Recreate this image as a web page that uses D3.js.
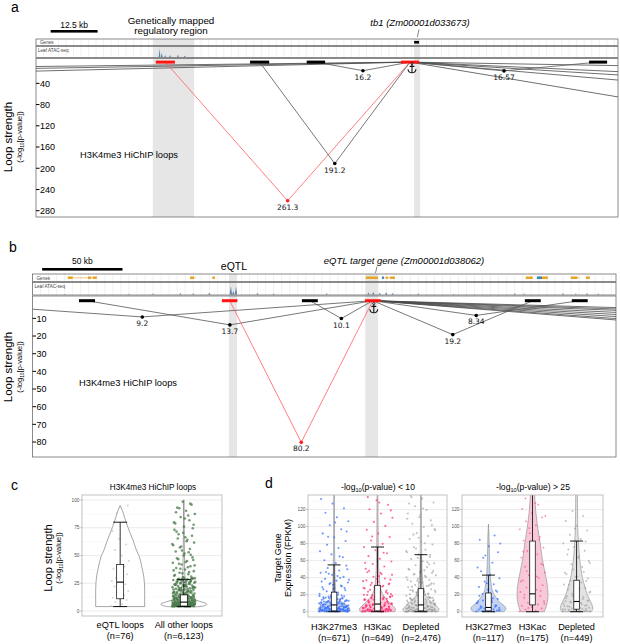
<!DOCTYPE html>
<html><head><meta charset="utf-8">
<script src="https://cdn.jsdelivr.net/npm/d3@7/dist/d3.min.js"></script>
<style>html,body{margin:0;padding:0;background:#fff;}svg{display:block}</style>
</head><body>
<script>
// ================= DATA =================
// ---- Panel a : tb1 locus, positions in kb from window start ----
const aWindowKb = [0, 155];
const aAnchors = [[31.9,37.0,1],[57.0,62.1,0],[72.1,77.0,0],[97.2,102.0,1],[147.3,152.1,0]];
const aLoops = [[34.45,99.6,261.3,1],[59.55,99.6,191.2,0],[74.55,99.6,16.2,0],[99.6,149.7,16.57,0]];
const aLoopsOut = [[-100,99.6,17],[-120,99.6,13],[-140,99.6,10],[99.6,300,12],[99.6,260,26],[99.6,260,35],[99.6,260,49],[99.6,260,95]];
const aShaded = [[31.1,42.1],[100.7,102.3]];
const aGenes = [[100.7,102.0]];
const aAtac = [[32.9,0.85],[33.5,0.45],[34.4,0.2],[35.7,0.2],[37.8,0.25],[39.6,0.15]];
const aTicks = [40,80,120,160,200,240,280];

// ---- Panel b : eQTL locus ----
const bWindowKb = [0, 363];
const bAnchors = [[28.9,38.9,0],[117.8,127.5,1],[167.6,177.5,0],[206.8,216.7,1],[306.3,316.2,0],[335.5,345.4,0]];
const bLoops = [[-75.1,211.7,9.2,0],[33.9,211.7,13.7,0],[122.7,211.7,80.2,1],[172.6,211.7,10.1,0],[211.7,311.2,19.2,0],[211.7,340.4,8.34,0]];
const bLoopsOut = [[211.7,600,5],[211.7,600,6],[211.7,600,7],[211.7,600,8.5],[211.7,600,10],[211.7,600,11.5],[211.7,600,13],[211.7,600,14]];
const bShaded = [[122.2,127.2],[207.0,215.0]];
const bGeneSpans = [[22,40],[98,101.7],[111.6,113.5],[207.4,214.9],[217.4,225.4],[306.9,311.2],[313.8,320.6],[334.9,340.5],[344.3,346.7]];
const bExons = [[22,25,0],[34.5,36.5,0],[37.5,40,0],[98,100.5,0],[112,113.5,0],[207.4,214.9,0],[217.4,218.6,1],[220,221,0],[222.5,225.4,0],[306.9,311.2,0],[313.8,317,1],[317,320.6,0],[334.9,339,0],[344.3,346.7,0]];
const bAtac = [[123.4,0.75],[126.6,0.7],[124.9,0.3],[20,0.05],[60,0.06],[75,0.08],[92,0.12],[100,0.1],[110,0.15],[140,0.12],[150,0.08],[183,0.1],[209,0.18],[212,0.22],[216,0.15],[220,0.2],[224,0.12],[240,0.08],[262,0.06],[300,0.1],[306,0.08],[330,0.1],[338,0.08],[345,0.1],[352,0.08]];
const bTicks = [10,20,30,40,50,60,70,80];

// ---- Panel c : loop strength ----
const cCats = ["eQTL loops","All other loops"];
const cN = ["(n=76)","(n=6,123)"];
const cBox = [[4,11,26,42,80],[4,4.5,8,14.5,28.5]]; // lower whisker, Q1, median, Q3, upper whisker
const cViolinEqtl = [[4,1],[19,1],[25,0.99],[34,0.94],[40,0.88],[49,0.78],[55,0.66],[64,0.52],[70,0.41],[80,0.24],[85,0.17],[90,0.1],[95,0]];
const cViolinOther = [[3.6,0],[4,0.7],[5,0.92],[6,1],[7,0.95],[8,0.8],[10,0.5],[12,0.3],[14,0.22],[17,0.14],[20,0.1],[25,0.07],[30,0.05],[40,0.035],[60,0.022],[80,0.015],[100,0.01]];
const cPtsEqtl = [4.5,6,8,10,11,12,14,16,18,20,22,24,25,27,28,30,33,35,38,40,42,45,50,55,60,65,72,80,88,95];
const cPtsOther = [4.1,4.3,4.5,4.8,5.0,5.2,5.5,5.7,6.0,6.2,6.4,6.7,7.0,7.2,7.5,7.8,8.1,8.4,8.7,9.0,9.3,9.6,10.0,10.4,10.8,11.2,11.6,12.0,12.5,13.0,13.5,14.0,4.2,4.6,5.1,5.6,6.1,6.6,7.1,7.6,8.2,8.8,9.4,10.2,11.0,11.8,12.7,13.6,14.6,4.4,4.9,5.4,5.9,6.5,7.3,8.0,9.1,10.6,12.2,14.3,
 4.05,4.17,4.28,4.39,4.52,4.63,4.71,4.86,4.94,5.07,5.18,5.31,5.39,5.48,5.67,5.83,6.08,6.27,6.41,6.69,6.88,7.04,7.29,7.43,7.68,7.87,8.06,8.33,8.62,8.97,9.21,9.58,9.87,10.13,10.49,10.71,11.08,11.37,11.62,11.93,12.38,12.74,13.19,13.52,13.97,14.41,14.93,
 4.7,5.3,5.8,6.3,6.9,7.4,8.3,9.2,10.1,11.3,12.4,13.8,4.23,4.81,5.42,6.14,6.77,7.58,8.49,9.66,10.94,12.07,13.33,
 15.2,15.8,16.5,17.1,17.9,18.6,19.4,20.1,20.9,21.8,22.6,23.5,24.4,25.3,26.2,27.2,28.1,29.0,15.5,16.9,18.2,19.8,21.3,22.9,24.8,26.7,28.6,16.1,17.5,19.1,20.6,22.2,24.0,25.8,27.7,29.6,
 15.43,15.97,16.38,16.94,17.36,17.92,18.47,18.83,19.36,19.94,20.37,20.92,21.48,21.86,22.43,22.97,23.38,23.91,24.52,24.87,25.46,25.91,26.38,26.96,27.45,27.88,28.42,28.93,29.38,29.87,15.0,16.7,18.8,21.1,23.7,26.5,29.3,
 30.5,31.8,33.2,34.5,35.9,37.4,38.8,40.3,41.9,43.4,45.0,46.7,48.3,49.9,32.4,35.1,38.0,41.1,44.2,47.5,31.0,33.9,36.6,39.4,42.6,46.0,
 51.7,53.6,55.8,58.1,60.4,62.9,65.3,67.8,70.4,73.1,52.9,57.2,61.6,66.4,71.5,50.6,54.5,59.2,64.1,69.1,74.5,
 76.0,78.9,81.7,84.6,87.4,90.2,93.1,95.8,98.4,79.8,86.1,92.5,77.7,83.3,89.0,96.7];
const cTicks = [0,25,50,75,100];

// ---- Panel d : target gene expression ----
const dCats = ["H3K27me3","H3Kac","Depleted"];
const dNLow = ["(n=671)","(n=649)","(n=2,476)"];
const dNHigh = ["(n=117)","(n=175)","(n=449)"];
const dBoxLow = [[0,1,8,23,55],[0,1,9,31,76],[0,1,8,27,67]];
const dBoxHigh = [[0,1,5,22,43],[0,8,21,83,190],[0,3,12,37,83]];
const dViolinLow = [
 [[0,0.95],[2,1],[5,0.95],[8,0.75],[11,0.5],[14,0.3],[18,0.18],[25,0.1],[35,0.07],[50,0.05],[80,0.03],[140,0.02]],
 [[0,0.95],[3,1],[6,0.9],[10,0.7],[14,0.5],[18,0.36],[25,0.2],[35,0.12],[50,0.07],[80,0.04],[140,0.02]],
 [[0,0.95],[3,1],[6,0.88],[10,0.65],[14,0.45],[18,0.3],[25,0.18],[35,0.1],[50,0.06],[80,0.035],[140,0.02]]];
const dViolinHigh = [
 [[0,0.85],[3,1],[6,0.95],[10,0.7],[15,0.5],[20,0.33],[25,0.22],[35,0.14],[50,0.08],[70,0.05],[90,0.03],[103,0]],
 [[0,0.76],[5,0.87],[12,0.96],[20,1],[30,0.96],[40,0.87],[50,0.76],[60,0.65],[70,0.57],[80,0.5],[90,0.41],[100,0.33],[110,0.26],[120,0.2],[140,0.13]],
 [[0,0.9],[4,1],[8,0.95],[14,0.8],[20,0.66],[30,0.5],[40,0.36],[50,0.27],[60,0.2],[80,0.12],[100,0.07],[140,0.05]]];
const dHalfLow = [16,18,18];
const dHalfHigh = [17.5,15.5,16.3];
const dPtsLowK27 = [0.2,0.4,0.6,0.8,1.0,1.2,1.5,1.8,2.1,2.4,2.7,3.0,3.4,3.8,4.2,4.6,5.0,5.5,6.0,6.5,7.0,7.6,8.2,8.8,9.5,10.2,11.0,11.8,12.6,13.5,14.4,15.4,16.4,17.5,18.6,19.8,
 0.3,0.7,1.1,1.6,2.2,2.9,3.6,4.4,5.2,6.2,7.3,8.5,9.8,11.4,13.0,14.9,16.9,19.1,0.5,1.3,2.5,3.9,5.7,7.9,10.6,13.9,17.8,
 0.1,0.35,0.55,0.75,0.95,1.25,1.45,1.7,1.95,2.3,2.6,2.85,3.15,3.5,3.85,4.1,4.5,4.85,5.3,5.8,6.3,6.8,7.4,8.0,8.6,9.2,9.9,10.7,11.5,12.3,13.2,14.1,15.1,16.1,
 0.45,0.9,1.4,2.0,2.75,3.3,4.0,4.8,5.9,7.1,8.4,9.7,11.2,12.9,14.6,16.6,18.2,0.65,1.9,3.1,4.7,6.7,9.0,12.0,15.6,19.4,
 21.0,22.4,23.9,25.5,27.1,28.8,30.6,32.5,34.4,36.5,38.6,40.9,43.3,45.8,48.5,51.3,54.2,22.9,26.3,29.8,33.6,37.6,42.0,46.7,27.8,31.7,35.4,39.8,44.6,49.8,
 57.3,60.5,63.9,67.4,71.0,74.8,78.7,83.0,87.5,92.0,96.8,101.5,106.3,111.0,116.2,121.5,127.0,132.4,65.0,88.0,94.2,104.8];
const dPtsLowKac = [0.1,0.3,0.5,0.7,0.9,1.1,1.4,1.7,2.0,2.3,2.7,3.1,3.5,4.0,4.5,5.0,5.6,6.2,6.9,7.6,8.3,9.1,9.9,10.8,11.7,12.7,13.7,14.8,15.9,17.1,18.3,19.6,
 0.4,0.8,1.2,1.9,2.6,3.3,4.2,5.3,6.5,7.9,9.4,11.1,13.0,15.1,17.4,19.9,0.6,1.5,2.8,4.7,7.2,10.3,14.1,18.6,0.2,1.0,2.2,3.8,
 0.15,0.45,0.85,1.3,1.8,2.45,2.95,3.65,4.35,4.85,5.45,6.05,6.75,7.45,8.15,8.95,9.75,10.55,11.45,12.35,13.35,14.45,15.55,16.75,17.95,
 0.65,1.6,2.5,3.4,4.6,6.1,7.7,9.6,11.8,14.4,16.9,19.2,
 20.8,22.1,23.5,24.9,26.4,28.0,29.7,31.4,33.2,35.1,37.0,39.0,41.1,43.3,45.6,48.0,21.5,24.2,27.2,30.4,33.9,37.7,41.8,46.3,23.0,28.8,35.9,44.0,25.7,32.3,38.3,
 50.5,53.2,56.0,59.0,62.1,65.3,68.7,72.2,75.9,79.7,83.6,87.7,91.9,96.3,100.8,105.5,110.3,115.3,120.4,125.6,130.9,57.5,69.2,88.4,119.0,128.3,134.6];
const dPtsLowDep = [0.1,0.3,0.5,0.7,0.9,1.1,1.3,1.6,1.9,2.2,2.5,2.8,3.2,3.6,4.0,4.4,4.9,5.4,5.9,6.4,7.0,7.6,8.2,8.9,9.6,10.3,11.1,11.9,12.7,13.6,14.5,15.5,16.5,17.6,18.7,19.8,
 0.2,0.6,1.0,1.5,2.0,2.6,3.3,4.1,5.0,6.0,7.1,8.3,9.6,11.0,12.5,14.1,15.8,17.6,19.5,0.4,0.8,1.4,2.3,3.4,4.7,6.2,7.9,9.8,11.9,14.2,16.7,19.3,
 0.15,0.55,1.2,2.1,3.0,4.3,5.7,7.4,9.2,11.5,13.9,16.3,18.9,
 0.25,0.65,1.05,1.45,1.85,2.35,2.75,3.25,3.75,4.25,4.75,5.25,5.85,6.55,7.25,7.95,8.75,9.45,10.25,11.25,12.15,13.15,14.25,15.35,16.45,17.55,
 20.4,21.3,22.2,23.2,24.2,25.3,26.4,27.6,28.8,30.1,31.4,32.8,34.2,35.7,37.2,38.8,40.4,42.1,43.8,45.6,47.4,49.3,20.9,22.8,24.9,27.0,29.4,31.9,34.6,37.6,40.8,44.2,47.9,21.7,25.6,30.7,36.4,42.9,48.6,23.7,33.5,46.3,
 50.3,52.4,54.6,56.9,59.3,61.8,64.4,67.1,69.9,72.8,75.8,78.9,82.1,85.4,88.8,92.3,95.9,99.6,103.4,107.3,111.3,115.4,119.6,123.9,128.3,132.8,136.2,55.7,63.1,71.4,80.5,90.6,101.7,113.9,127.1,58.2,74.3,97.0,121.3,134.5,66.8,86.9,109.2];
const dPtsHighK27 = [0.2,0.5,0.9,1.3,1.8,2.4,3.0,3.7,4.5,5.4,6.4,7.5,8.7,10.0,11.5,13.1,14.8,16.7,18.7,0.4,1.1,2.1,3.4,5.0,7.0,9.4,12.3,15.7,
 0.7,1.5,2.7,4.1,5.8,7.8,10.6,13.8,
 20.9,23.4,26.1,29.0,32.2,35.6,39.3,43.3,47.6,25.0,33.5,52.0,57.5,63.4,69.9,77.0,84.6,89.5,66.0,80.2];
const dPtsHighKac = [0.3,1.2,2.4,3.8,5.3,6.9,8.6,10.4,12.3,14.3,16.4,18.6,20.9,23.3,25.8,28.4,31.1,33.9,36.8,39.8,42.9,46.1,49.4,52.8,56.3,59.9,63.6,67.4,71.3,75.3,79.4,83.6,87.9,92.3,96.8,101.4,106.1,110.9,115.8,120.8,125.9,
 4.5,9.5,15.3,19.8,24.6,30.0,35.5,41.2,47.7,55.1,62.3,70.6,85.0,98.2,112.5,127.5,133.0];
const dPtsHighDep = [0.2,0.6,1.0,1.5,2.0,2.6,3.2,3.9,4.6,5.4,6.3,7.2,8.2,9.3,10.4,11.6,12.9,14.3,15.7,17.2,18.8,0.4,1.2,2.3,3.6,5.1,6.8,8.7,10.8,13.1,15.6,18.3,
 0.8,1.8,2.9,4.3,5.9,7.6,9.8,12.2,14.9,
 21.0,22.6,24.3,26.1,28.0,30.0,32.1,34.3,36.6,39.0,41.5,44.1,46.8,49.6,23.4,27.3,31.6,36.0,40.7,45.9,
 52.5,55.9,59.5,63.3,67.3,71.5,75.9,80.5,85.3,90.3,95.5,100.9,106.5,112.3,118.3,57.3,65.0,73.2,82.6,97.8];
const dTicks = [0,20,40,60,80,100,120];

// ================= DRAWING =================
const FS = '"Liberation Sans", Arial, Helvetica, sans-serif';
const FD = '"DejaVu Sans", Verdana, sans-serif';
const svg = d3.select("body").append("svg").attr("width",620).attr("height",644);
const defs = svg.append("defs");

function txt(g,x,y,s,o={}){
  return g.append("text").attr("x",x).attr("y",y).text(s)
    .attr("font-family",o.ff||FS).attr("font-size",o.fs||10)
    .attr("text-anchor",o.anchor||"start").attr("fill",o.fill||"#000")
    .attr("font-style",o.italic?"italic":null);
}
function yLabel(g,cx1,cx2,cy,fs1,fs2){
  g.append("text").attr("transform",`translate(${cx1},${cy}) rotate(-90)`).attr("text-anchor","middle")
    .attr("font-family",FS).attr("font-size",fs1).text("Loop strength");
  const t = g.append("text").attr("transform",`translate(${cx2},${cy}) rotate(-90)`).attr("text-anchor","middle")
    .attr("font-family",FS).attr("font-size",fs2);
  t.append("tspan").text("(-log");
  t.append("tspan").text("10").attr("font-size",fs2*0.65).attr("dy",fs2*0.3);
  t.append("tspan").text("[p-value])").attr("dy",-fs2*0.3);
}
function anchorSym(g,cx,cy){
  const p = d3.path();
  p.moveTo(cx,cy-3.3); p.lineTo(cx,cy+4.6);
  p.moveTo(cx-2.4,cy-1.6); p.lineTo(cx+2.4,cy-1.6);
  p.moveTo(cx-4,cy+1.2); p.quadraticCurveTo(cx-3.6,cy+4.8,cx,cy+4.8); p.quadraticCurveTo(cx+3.6,cy+4.8,cx+4,cy+1.2);
  g.append("path").attr("d",p.toString()).attr("fill","none").attr("stroke","#111").attr("stroke-width",1.1);
  g.append("circle").attr("cx",cx).attr("cy",cy-4.4).attr("r",1.1).attr("fill","none").attr("stroke","#111").attr("stroke-width",0.9);
}

function browserPanel(P){
  const g = svg.append("g");
  const x = d3.scaleLinear().domain(P.domain).range([P.x0,P.x1]);
  const y = d3.scaleLinear().domain([0,P.yRefVal]).range([P.y0,P.yRefPx]);
  x.ticks(P.nGrid).forEach(t=>g.append("line").attr("x1",x(t)).attr("x2",x(t)).attr("y1",P.gTop).attr("y2",P.aBot)
    .attr("stroke","#e8e8e8").attr("stroke-width",0.6));
  P.shades.forEach(s=>g.append("rect").attr("x",x(s[0])).attr("y",P.gTop).attr("width",x(s[1])-x(s[0]))
    .attr("height",P.bottom-P.gTop).attr("fill","#e6e6e6"));
  const gy = (P.gTop+P.gBot)/2;
  (P.geneSpans||[]).forEach(s=>g.append("line").attr("x1",x(s[0])).attr("x2",x(s[1])).attr("y1",gy).attr("y2",gy)
    .attr("stroke","#e0a030").attr("stroke-width",0.6));
  P.exons.forEach(s=>g.append("rect").attr("x",x(s[0])).attr("y",gy-1.3).attr("width",Math.max(1,x(s[1])-x(s[0])))
    .attr("height",2.6).attr("fill",P.exonColors[s[2]||0]));
  const ah = P.aBot-P.aTop-1;
  P.atac.forEach(([k,h])=>{const bx=x(k);
    g.append("path").attr("d",`M${bx-P.atacW},${P.aBot-0.5}L${bx},${P.aBot-0.5-h*ah}L${bx+P.atacW},${P.aBot-0.5}Z`).attr("fill","#5b7fa8");});
  [[P.gTop,P.gBot],[P.aTop,P.aBot],[P.lTop,P.bottom]].forEach(([t,b])=>g.append("rect").attr("x",P.x0).attr("y",t)
    .attr("width",P.x1-P.x0).attr("height",b-t).attr("fill","none").attr("stroke","#6e6e6e").attr("stroke-width",0.8));
  txt(g,P.x0+4,P.gBot-1.3,"Genes",{fs:4.6,fill:"#444"});
  txt(g,P.x0+2,P.aTop+5,"Leaf ATAC-seq",{fs:4.6,fill:"#444"});
  const cid = "clip"+P.id;
  defs.append("clipPath").attr("id",cid).append("rect").attr("x",P.x0).attr("y",P.lTop)
    .attr("width",P.x1-P.x0).attr("height",P.bottom-P.lTop);
  const L = g.append("g").attr("clip-path",`url(#${cid})`);
  const vpath = (a,b,v)=>{const m=(a+b)/2; return `M${x(a)},${y(0)}L${x(m)},${y(v)}L${x(b)},${y(0)}`;};
  P.loopsOut.forEach(d=>L.append("path").attr("d",vpath(d[0],d[1],d[2])).attr("fill","none").attr("stroke","#4a4a4a").attr("stroke-width",0.8));
  P.loops.forEach(d=>L.append("path").attr("d",vpath(d[0],d[1],d[2])).attr("fill","none")
    .attr("stroke",d[3]?"#ff5e5e":"#555").attr("stroke-width",0.8));
  P.anchors.forEach(d=>g.append("rect").attr("x",x(d[0])).attr("y",y(0)-1.5).attr("width",x(d[1])-x(d[0]))
    .attr("height",3).attr("fill",d[2]?"#ff1414":"#000"));
  P.loops.forEach(d=>{const m=(d[0]+d[1])/2;
    g.append("circle").attr("cx",x(m)).attr("cy",y(d[2])).attr("r",1.8).attr("fill",d[3]?"#ff2020":"#000");
    txt(g,x(m),y(d[2])+9,String(d[2]),{ff:FD,fs:7.5,anchor:"middle",fill:"#111"});});
  P.ticks.forEach(t=>{
    g.append("line").attr("x1",P.x0).attr("x2",P.x0+3.5).attr("y1",y(t)).attr("y2",y(t)).attr("stroke","#000").attr("stroke-width",1);
    txt(g,P.x0+4,y(t)+3.3,t,{fs:9});});
  return {g,x,y};
}

// ---- Panel a ----
const A = browserPanel({id:"a",domain:aWindowKb,x0:36,x1:618,gTop:39,gBot:45.5,aTop:46.5,aBot:57.5,lTop:58.5,bottom:217,
  y0:62.1,yRefVal:280,yRefPx:210.7,nGrid:70,shades:aShaded,exons:aGenes.map(d=>[d[0],d[1],0]),exonColors:["#000"],
  atac:aAtac,atacW:0.8,loops:aLoops,loopsOut:aLoopsOut,anchors:aAnchors,ticks:aTicks});
anchorSym(A.g,A.x(99.6)+2,68);
txt(A.g,11,12,"a",{fs:14});
A.g.append("rect").attr("x",A.x(3.9)).attr("y",30).attr("width",A.x(3.9+12.5)-A.x(3.9)).attr("height",2.6).attr("fill","#000");
txt(A.g,A.x(3.9+6.25),27.5,"12.5 kb",{fs:8.5,anchor:"middle"});
txt(A.g,171,24,"Genetically mapped",{fs:9.8,anchor:"middle"});
txt(A.g,171,34,"regulatory region",{fs:9.8,anchor:"middle"});
txt(A.g,420,26,"tb1 (Zm00001d033673)",{fs:9.5,anchor:"middle",italic:true});
A.g.append("line").attr("x1",419).attr("y1",29.5).attr("x2",417.3).attr("y2",37).attr("stroke","#333").attr("stroke-width",0.6);
txt(A.g,80,158,"H3K4me3 HiChIP loops",{fs:9.3});
yLabel(A.g,12,22,137,11.5,7.5);

// ---- Panel b ----
const B = browserPanel({id:"b",domain:bWindowKb,x0:32.5,x1:616,gTop:274,gBot:281.5,aTop:282.5,aBot:295,lTop:296,bottom:457,
  y0:300.7,yRefVal:80,yRefPx:442,nGrid:80,shades:bShaded,geneSpans:bGeneSpans,exons:bExons,exonColors:["#e8a628","#3e87a8"],
  atac:bAtac,atacW:1.2,loops:bLoops,loopsOut:bLoopsOut,anchors:bAnchors,ticks:bTicks});
anchorSym(B.g,B.x(211.7)+1,308);
txt(B.g,9,252,"b",{fs:14});
B.g.append("rect").attr("x",B.x(6)).attr("y",268).attr("width",B.x(56)-B.x(6)).attr("height",2.6).attr("fill","#000");
txt(B.g,B.x(31),264,"50 kb",{fs:8.5,anchor:"middle"});
txt(B.g,234,270,"eQTL",{fs:10.5,anchor:"middle"});
txt(B.g,404,264,"eQTL target gene (Zm00001d038062)",{fs:9.5,anchor:"middle",italic:true});
B.g.append("line").attr("x1",377).attr("y1",266.5).attr("x2",375.5).attr("y2",273).attr("stroke","#333").attr("stroke-width",0.6);
txt(B.g,79,386,"H3K4me3 HiChIP loops",{fs:9.3});
yLabel(B.g,12,22,367,11.5,7.5);

// ---- generic stat panel (violin + jitter + box) ----
function statPanel(o){
  const g = svg.append("g");
  const x = d3.scalePoint().domain(o.cats).range([o.x0,o.x1]).padding(0.6);
  const y = o.y;
  o.minor.forEach(t=>g.append("line").attr("x1",o.x0).attr("x2",o.x1).attr("y1",y(t)).attr("y2",y(t)).attr("stroke","#f2f2f2").attr("stroke-width",0.5));
  o.major.forEach(t=>g.append("line").attr("x1",o.x0).attr("x2",o.x1).attr("y1",y(t)).attr("y2",y(t)).attr("stroke","#e2e2e2").attr("stroke-width",0.7));
  const cid = "clip"+o.id;
  defs.append("clipPath").attr("id",cid).append("rect").attr("x",o.x0).attr("y",o.top).attr("width",o.x1-o.x0).attr("height",o.bottom-o.top);
  const body = g.append("g").attr("clip-path",`url(#${cid})`);
  o.cats.forEach((c,i)=>{
    const cx = x(c), hw = o.half[i];
    const area = d3.area().y(d=>y(d[0])).x0(d=>cx-hw*d[1]).x1(d=>cx+hw*d[1]).curve(d3.curveMonotoneY);
    body.append("path").attr("d",area(o.violins[i])).attr("fill",o.fills[i]).attr("stroke",o.vstroke).attr("stroke-width",0.6);
    o.points[i].forEach((v,j)=>{
      const jx = (((j*0.6180339887)%1)-0.5)*2*o.jw[i];
      body.append("circle").attr("cx",cx+jx).attr("cy",y(v)).attr("r",o.pr[i]).attr("fill",o.pc[i]).attr("fill-opacity",o.po[i]);
    });
    const [lo,q1,md,q3,hi] = o.box[i];
    const bw = o.bw, cw = o.cw;
    body.append("line").attr("x1",cx).attr("x2",cx).attr("y1",y(lo)).attr("y2",y(q1)).attr("stroke","#000").attr("stroke-width",0.8);
    body.append("line").attr("x1",cx).attr("x2",cx).attr("y1",y(q3)).attr("y2",y(hi)).attr("stroke","#000").attr("stroke-width",0.8);
    [lo,hi].forEach(v=>body.append("line").attr("x1",cx-cw/2).attr("x2",cx+cw/2).attr("y1",y(v)).attr("y2",y(v)).attr("stroke","#000").attr("stroke-width",0.9));
    body.append("rect").attr("x",cx-bw/2).attr("y",y(q3)).attr("width",bw).attr("height",y(q1)-y(q3)).attr("fill","#fff").attr("stroke","#000").attr("stroke-width",0.7);
    body.append("line").attr("x1",cx-bw/2).attr("x2",cx+bw/2).attr("y1",y(md)).attr("y2",y(md)).attr("stroke","#000").attr("stroke-width",1.1);
    txt(g,cx,o.lab1Y,c,{fs:9.2,anchor:"middle"});
    txt(g,cx,o.lab2Y,o.ns[i],{fs:9.2,anchor:"middle"});
  });
  g.append("rect").attr("x",o.x0).attr("y",o.top).attr("width",o.x1-o.x0).attr("height",o.bottom-o.top)
    .attr("fill","none").attr("stroke","#b3b3b3").attr("stroke-width",0.8);
  o.major.forEach(t=>{
    g.append("line").attr("x1",o.x0-1.8).attr("x2",o.x0).attr("y1",y(t)).attr("y2",y(t)).attr("stroke","#888").attr("stroke-width",0.5);
    txt(g,o.x0-2.5,y(t)+1.6,t,{fs:4.8,anchor:"end",fill:"#555"});
  });
  return {g,x,y};
}

// ---- Panel c ----
const cY = d3.scaleLinear().domain([-4.5,104.5]).range([616,495]);
const C = statPanel({id:"c",cats:cCats,ns:cN,x0:82,x1:222,top:495,bottom:616,y:cY,major:cTicks,minor:[12.5,37.5,62.5,87.5],
  half:[24.5,23],violins:[cViolinEqtl,cViolinOther],fills:["#fff","#fff"],vstroke:"#6a6a6a",
  points:[cPtsEqtl,cPtsOther],pc:["#b8b8b8","#4a7a4a"],po:[0.6,0.75],pr:[1.0,1.3],jw:[9,11.5],box:cBox,bw:7,cw:14,lab1Y:628,lab2Y:639});
txt(C.g,11,490,"c",{fs:14});
txt(C.g,153,490,"H3K4me3 HiChIP loops",{fs:8.2,anchor:"middle"});
yLabel(C.g,52,61,558,11,7.5);

// ---- Panel d ----
const dY = d3.scaleLinear().domain([-6.2,137.1]).range([617,495]);
const dMinor = [10,30,50,70,90,110,130];
const fillsD = ["#c5d3f3","#f8c8d9","#e2e2e2"], ptsD = ["#2f6bff","#ff2e6e","#9a9a9a"];
const D1 = statPanel({id:"d1",cats:dCats,ns:dNLow,x0:308,x1:447,top:495,bottom:617,y:dY,major:dTicks,minor:dMinor,
  half:dHalfLow,violins:dViolinLow,fills:fillsD,vstroke:"#8a8a8a",points:[dPtsLowK27,dPtsLowKac,dPtsLowDep],
  pc:ptsD,po:[0.7,0.7,0.6],pr:[1.05,1.05,1.05],jw:[15,15,15],box:dBoxLow,bw:5.5,cw:13,lab1Y:629.5,lab2Y:640.5});
const D2 = statPanel({id:"d2",cats:dCats,ns:dNHigh,x0:462,x1:603,top:495,bottom:617,y:dY,major:dTicks,minor:dMinor,
  half:dHalfHigh,violins:dViolinHigh,fills:fillsD,vstroke:"#8a8a8a",points:[dPtsHighK27,dPtsHighKac,dPtsHighDep],
  pc:ptsD,po:[0.7,0.55,0.6],pr:[1.0,0.9,1.0],jw:[12,13,14],box:dBoxHigh,bw:5.5,cw:13,lab1Y:629.5,lab2Y:640.5});
txt(D1.g,265,488,"d",{fs:14});
function facetTitle(g,cx,rest){
  const t = g.append("text").attr("x",cx).attr("y",490).attr("text-anchor","middle").attr("font-family",FS).attr("font-size",8.6);
  t.append("tspan").text("-log");
  t.append("tspan").text("10").attr("font-size",5.6).attr("dy",2.4);
  t.append("tspan").text(rest).attr("dy",-2.4);
}
facetTitle(D1.g,378,"(p-value) < 10");
facetTitle(D2.g,533,"(p-value) > 25");
const dl = D1.g.append("g").attr("font-family",FS).attr("font-size",9).attr("text-anchor","middle");
dl.append("text").attr("transform","translate(281,558) rotate(-90)").text("Target Gene");
dl.append("text").attr("transform","translate(291,558) rotate(-90)").text("Expression (FPKM)");
</script>
</body></html>
